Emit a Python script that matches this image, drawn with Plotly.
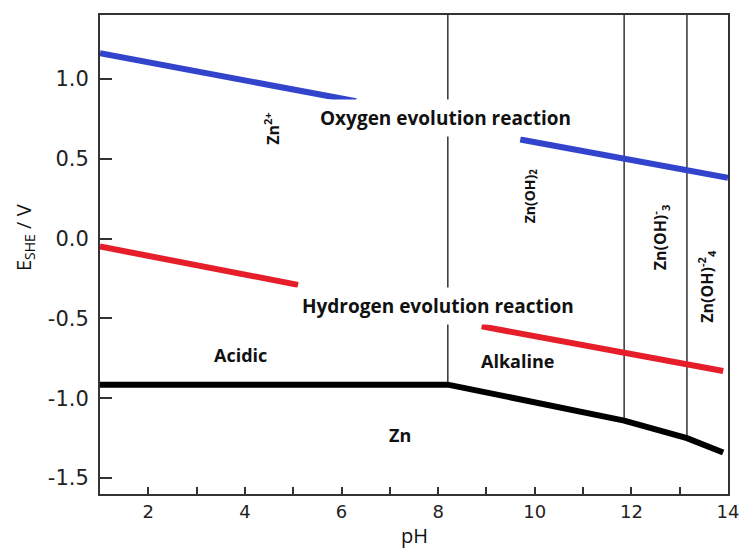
import plotly.graph_objects as go

# ---- data ----
ph_oer_a = [1.0, 6.3]
e_oer_a = [1.16, 0.86]
ph_oer_b = [9.7, 14.0]
e_oer_b = [0.62, 0.38]

ph_her_a = [1.0, 5.1]
e_her_a = [-0.05, -0.29]
ph_her_b = [8.9, 13.9]
e_her_b = [-0.55, -0.83]

ph_zn = [1.0, 8.2, 11.85, 13.15, 13.9]
e_zn = [-0.915, -0.915, -1.14, -1.25, -1.34]

boundary_ph = [8.2, 11.85, 13.15]
boundary_top = 1.4
boundary_bottom = [-0.915, -1.14, -1.25]

x_range = [1, 14]
y_range = [-1.6, 1.4]
y_tickvals = [-1.5, -1.0, -0.5, 0.0, 0.5, 1.0]
y_ticktext = ["-1.5", "-1.0", "-0.5", "0.0", "0.5", "1.0"]

fig = go.Figure()

# boundaries between species
bx, by = [], []
for p, b in zip(boundary_ph, boundary_bottom):
    bx += [p, p, None]
    by += [boundary_top, b, None]
fig.add_trace(go.Scatter(x=bx, y=by, mode="lines",
                         line=dict(color="#333333", width=1.5),
                         hoverinfo="skip", showlegend=False))

fig.add_trace(go.Scatter(x=ph_oer_a + [None] + ph_oer_b, y=e_oer_a + [None] + e_oer_b,
                         mode="lines", line=dict(color="#3344cc", width=6),
                         showlegend=False))
fig.add_trace(go.Scatter(x=ph_her_a + [None] + ph_her_b, y=e_her_a + [None] + e_her_b,
                         mode="lines", line=dict(color="#e61e2a", width=6),
                         showlegend=False))
fig.add_trace(go.Scatter(x=ph_zn, y=e_zn, mode="lines",
                         line=dict(color="#000000", width=6), showlegend=False))

FAM = "Open Sans, sans-serif"
lab_font = dict(family=FAM, size=18, color="#111111")
big_font = dict(family=FAM, size=19, color="#111111")
fig.add_annotation(x=8.16, y=0.756, text="<b>Oxygen evolution reaction</b>", showarrow=False,
                   font=big_font, bgcolor="white", borderpad=5)
fig.add_annotation(x=8.0, y=-0.421, text="<b>Hydrogen evolution reaction</b>", showarrow=False,
                   font=big_font, bgcolor="white", borderpad=5)
fig.add_annotation(x=3.9, y=-0.73, text="<b>Acidic</b>", showarrow=False, font=lab_font)
fig.add_annotation(x=9.65, y=-0.77, text="<b>Alkaline</b>", showarrow=False, font=lab_font)
fig.add_annotation(x=7.2, y=-1.23, text="<b>Zn</b>", showarrow=False, font=lab_font)

rot_font = dict(family=FAM, size=16, color="#111111")
fig.add_annotation(x=4.57, y=0.69, text="<b>Zn<sup>2+</sup></b>", textangle=-90,
                   showarrow=False, font=rot_font)
fig.add_annotation(x=9.9, y=0.27, text="<b>Zn(OH)<sub>2</sub></b>", textangle=-90,
                   showarrow=False, font=dict(family=FAM, size=14, color="#111111"))
fig.add_annotation(x=12.6, y=0.01, text="<b>Zn(OH)<sup>-</sup><sub>3</sub></b>", textangle=-90,
                   showarrow=False, font=rot_font)
fig.add_annotation(x=13.55, y=-0.3, text="<b>Zn(OH)<sup>-2</sup><sub>4</sub></b>", textangle=-90,
                   showarrow=False, font=rot_font)

# axis titles
fig.add_annotation(xref="paper", yref="paper", x=0, y=(494 - 238) / 479, xshift=-76,
                   xanchor="center", yanchor="middle",
                   text="E<sub>SHE</sub> / V", textangle=-90, showarrow=False,
                   font=dict(family=FAM, size=20, color="#111111"))
fig.add_annotation(xref="paper", yref="paper", x=0.5, y=0, yshift=-41,
                   xanchor="center", yanchor="middle",
                   text="pH", showarrow=False,
                   font=dict(family=FAM, size=20, color="#111111"))

axis_common = dict(showline=True, linecolor="#333333", linewidth=2, mirror=True,
                   showgrid=False, zeroline=False, ticks="inside", tickcolor="#333333",
                   tickwidth=1.5, automargin=False)

fig.update_xaxes(range=x_range, tick0=0, dtick=2, ticklen=7,
                 minor=dict(dtick=1, tick0=0, ticks="inside", ticklen=7, tickcolor="#333333"),
                 tickfont=dict(family="DejaVu Sans", size=18, color="#222222"),
                 **axis_common)
fig.update_yaxes(range=y_range, tickvals=y_tickvals, ticktext=y_ticktext, ticklen=12,
                 ticklabelstandoff=5,
                 tickfont=dict(family="DejaVu Sans", size=21, color="#222222"),
                 **axis_common)

# page body adds an 8px offset; figure sized so the plot area lands at x 100-728, y 15-494
fig.update_layout(width=747, height=540, margin=dict(l=92, r=27, t=7, b=54),
                  plot_bgcolor="white", paper_bgcolor="white", showlegend=False)

fig.write_html("out.html")
